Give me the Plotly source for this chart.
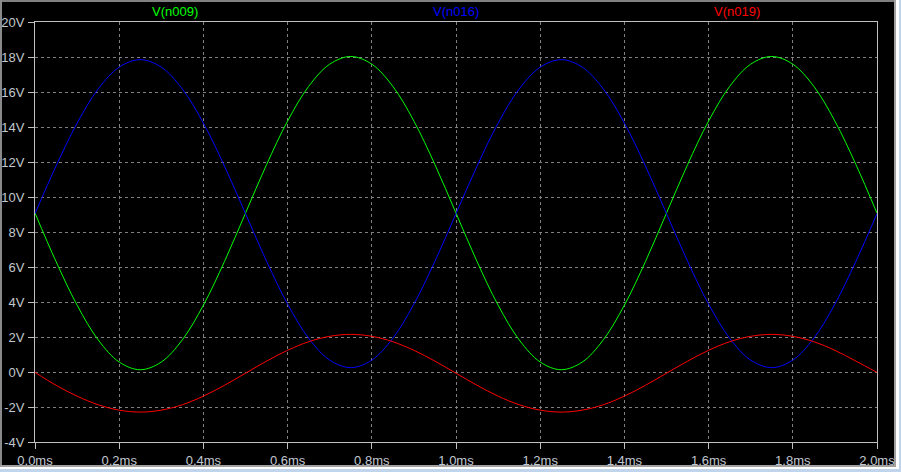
import plotly.graph_objects as go

# time in ms
t_ms = [round(i * 0.05, 2) for i in range(41)]

v_n009 = [9.08, 6.31, 3.82, 1.84, 0.57, 0.13, 0.57, 1.84, 3.82, 6.31,
          9.08, 11.85, 14.34, 16.32, 17.59, 18.03, 17.59, 16.32, 14.34, 11.85,
          9.08, 6.31, 3.82, 1.84, 0.57, 0.13, 0.57, 1.84, 3.82, 6.31,
          9.08, 11.85, 14.34, 16.32, 17.59, 18.03, 17.59, 16.32, 14.34, 11.85,
          9.08]
v_n016 = [9.05, 11.77, 14.22, 16.17, 17.42, 17.85, 17.42, 16.17, 14.22, 11.77,
          9.05, 6.33, 3.88, 1.93, 0.68, 0.25, 0.68, 1.93, 3.88, 6.33,
          9.05, 11.77, 14.22, 16.17, 17.42, 17.85, 17.42, 16.17, 14.22, 11.77,
          9.05, 6.33, 3.88, 1.93, 0.68, 0.25, 0.68, 1.93, 3.88, 6.33,
          9.05]
v_n019 = [-0.02, -0.76, -1.38, -1.87, -2.18, -2.29, -2.18, -1.87, -1.38, -0.76,
          -0.07, 0.62, 1.24, 1.73, 2.04, 2.15, 2.04, 1.73, 1.24, 0.62,
          -0.07, -0.76, -1.38, -1.87, -2.18, -2.29, -2.18, -1.87, -1.38, -0.76,
          -0.07, 0.62, 1.24, 1.73, 2.04, 2.15, 2.04, 1.73, 1.24, 0.62,
          -0.02]

series_names = ["V(n009)", "V(n016)", "V(n019)"]
series_colors = ["#00ff00", "#0000ff", "#ff0000"]
label_pos = [1 / 6, 1 / 2, 5 / 6]

x_tickvals = [round(i * 0.2, 1) for i in range(11)]
x_ticktext = [f"{v:.1f}ms" for v in x_tickvals]
y_tickvals = list(range(-4, 21, 2))
y_ticktext = [f"{v}V" for v in y_tickvals]

FONT = "Liberation Sans, Arial, sans-serif"
TXT = "#c0c8d0"

fig = go.Figure()
for name, ys, col in zip(series_names, [v_n009, v_n016, v_n019], series_colors):
    fig.add_trace(go.Scatter(x=t_ms, y=ys, mode="lines", name=name,
                             line=dict(color=col, width=1, shape="spline", smoothing=1.0),
                             hoverinfo="skip"))

annotations = []
for name, col, px in zip(series_names, series_colors, label_pos):
    annotations.append(dict(x=px, y=1.024, xref="paper", yref="paper", text=name,
                            showarrow=False, font=dict(color=col, size=13, family=FONT),
                            xanchor="center", yanchor="middle"))

W, H = 901, 472
L, R, T, B = 35, 877, 22, 442


def px_x(p):
    return (p - L) / (R - L)


def px_y(p):
    return (B - p) / (B - T)


shapes = []


def rect(x0, y0, x1, y1, color):
    shapes.append(dict(type="rect", xref="paper", yref="paper",
                       x0=px_x(x0), x1=px_x(x1), y0=px_y(y1), y1=px_y(y0),
                       fillcolor=color, line=dict(width=0), layer="above"))


# window frame
rect(0, 0, 901, 2, "#808080")
rect(0, 0, 2, 472, "#8a8a8a")
rect(894, 0, 896, 468, "#a0a0a0")
rect(896, 0, 899, 470, "#ffffff")
rect(899, 0, 901, 472, "#c0d4ec")
rect(0, 465, 896, 467, "#a0a0a0")
rect(0, 467, 899, 469, "#ffffff")
rect(0, 469, 901, 472, "#c0d4ec")

axis_common = dict(showline=True, linecolor="#c0c0c0", linewidth=1, mirror=True,
                   ticks="outside", tickcolor="#c0c0c0", ticklen=6, tickwidth=1,
                   showgrid=True, gridcolor="#808080", gridwidth=1, griddash="3px,3px",
                   zeroline=False, automargin=False,
                   tickfont=dict(color=TXT, size=13, family=FONT))

fig.update_layout(
    width=W, height=H,
    margin=dict(l=L, r=W - R, t=T, b=H - B, pad=0),
    paper_bgcolor="#000000", plot_bgcolor="#000000",
    showlegend=False,
    annotations=annotations,
    shapes=shapes,
    xaxis=dict(range=[0, 2], tickvals=x_tickvals, ticktext=x_ticktext,
               ticklabelstandoff=0, **axis_common),
    yaxis=dict(range=[-4, 20], tickvals=y_tickvals, ticktext=y_ticktext,
               ticklabelstandoff=1, **axis_common),
)

fig.write_html("out.html")
